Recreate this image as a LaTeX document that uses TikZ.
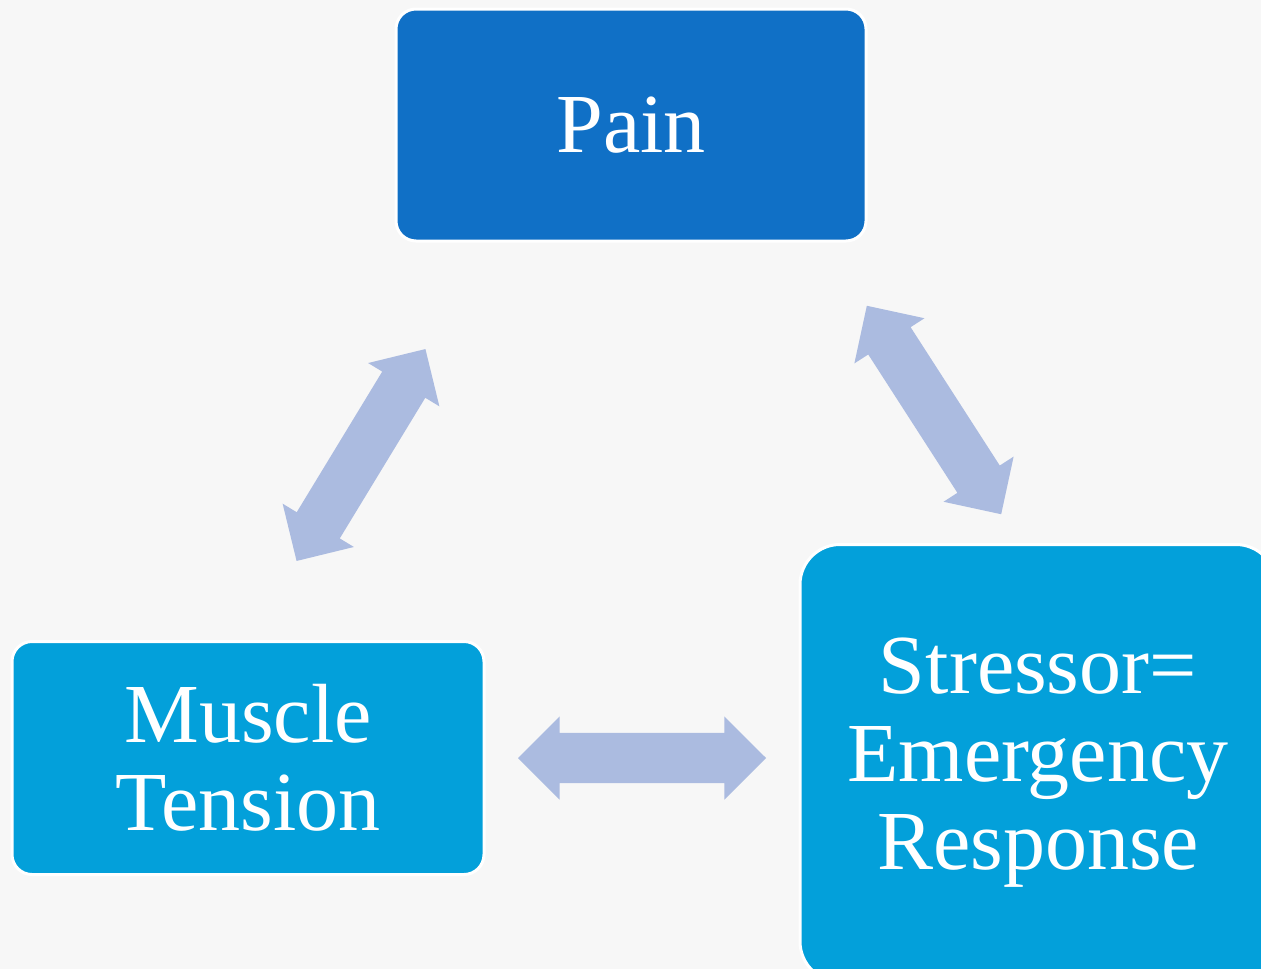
\documentclass[tikz,border=0pt]{standalone}
\usepackage{fontspec}
\setmainfont{Liberation Serif}
\usetikzlibrary{shapes.arrows}
\definecolor{painblue}{RGB}{16,112,198}
\definecolor{boxblue}{RGB}{3,160,218}
\definecolor{arrowblue}{RGB}{171,187,224}
\definecolor{paper}{RGB}{247,247,247}
\tikzset{
 stage/.style={rectangle,rounded corners=20pt,draw=white,line width=3pt,text=white,align=center,font=\fontsize{84}{88}\selectfont,inner sep=0pt},
 swap/.style={double arrow,fill=arrowblue,minimum height=248pt,minimum width=83pt,double arrow head extend=16.5pt,double arrow tip angle=90,inner xsep=0pt,inner ysep=25pt}
}
\begin{document}
\begin{tikzpicture}[x=1pt,y=-1pt]
 \clip (0,0) rectangle (1261,969);
 \fill[paper] (0,0) rectangle (1261,969);

 \node[stage,fill=painblue,minimum width=470pt,minimum height=232pt] (pain) at (631,125) {Pain};
 \node[stage,fill=boxblue,minimum width=472pt,minimum height=233pt] (muscle) at (248,758) {Muscle\\Tension};
 \node[stage,fill=boxblue,minimum width=476pt,minimum height=437pt,rounded corners=40pt] (stressor) at (1038,763) {Stressor=\\Emergency\\Response};

 \node[swap,rotate=58.7] (musclepain) at (361,455) {};
 \node[swap,rotate=-57.2] (painstressor) at (934,410) {};
 \node[swap] (musclestressor) at (642,758) {};
\end{tikzpicture}
\end{document}
